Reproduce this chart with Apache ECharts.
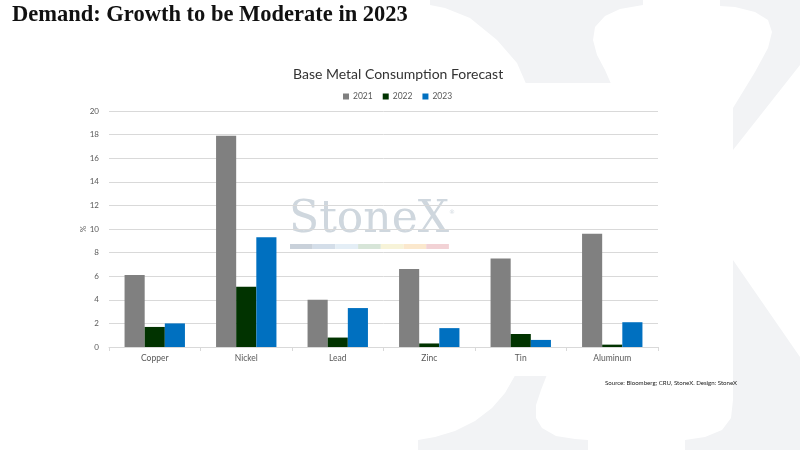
<!DOCTYPE html>
<html>
<head>
<meta charset="utf-8">
<script src="https://cdn.jsdelivr.net/npm/echarts@6/dist/echarts.min.js"></script>
<style>
html,body{margin:0;padding:0;background:#fff;}
#chart{width:800px;height:450px;}
</style>
</head>
<body>
<div id="chart"></div>
<script>
const categories = ['Copper', 'Nickel', 'Lead', 'Zinc', 'Tin', 'Aluminum'];
const seriesNames = ['2021', '2022', '2023'];
const values2021 = [6.1, 17.9, 4.0, 6.6, 7.5, 9.6];
const values2022 = [1.7, 5.1, 0.8, 0.3, 1.1, 0.2];
const values2023 = [2.0, 9.3, 3.3, 1.6, 0.6, 2.1];
const yTicks = [0, 2, 4, 6, 8, 10, 12, 14, 16, 18, 20];
const yAxisName = '%';
const colors = ['#808080', '#013300', '#0070c0'];

const grey = '#f2f3f5';
const stripColors = ['#c9d1da', '#d4dee9', '#e4eef6', '#d7e5d8', '#f7f3d8', '#fbe8cd', '#f2d2d5'];

const graphics = [
  { type: 'polygon', z: -10, silent: true, shape: { points: [[430,0],[643,0],[643,5],[620,9],[605,16],[595,27],[593,40],[597,55],[605,70],[612,86],[527,86],[517,63],[497,40],[470,18],[445,8],[430,5]] }, style: { fill: grey } },
  { type: 'polygon', z: -10, silent: true, shape: { points: [[720,0],[800,0],[800,65],[733,150],[733,108],[755,72],[768,48],[772,32],[768,20],[755,12],[735,7],[720,6]] }, style: { fill: grey } },
  { type: 'polygon', z: -10, silent: true, shape: { points: [[733,260],[800,357],[800,450],[685,450],[685,440],[705,437],[722,430],[731,418],[733,400]] }, style: { fill: grey } },
  { type: 'polygon', z: -10, silent: true, shape: { points: [[517,372],[548,372],[541,390],[536,405],[536,418],[542,428],[556,436],[575,439],[588,440],[588,450],[418,450],[418,440],[435,437],[455,431],[475,421],[492,408],[505,393]] }, style: { fill: grey } },
  { type: 'rect', z: -9, silent: true, shape: { x: 0, y: 83, width: 733, height: 293 }, style: { fill: '#ffffff' } },
  { type: 'text', z: 10, left: 12, top: 4, style: { text: 'Demand: Growth to be Moderate in 2023', font: 'bold 22.5px "Liberation Serif", serif', fill: '#111111' } },
  { type: 'text', z: 10, left: 605, top: 380, style: { text: 'Source: Bloomberg; CRU, StoneX. Design: StoneX', font: '6.1px Lato, "Open Sans", sans-serif', fill: '#222222' } },
  { type: 'text', z: 10, x: 83, y: 229, rotation: Math.PI / 2, style: { text: yAxisName, font: '8px Lato, "Open Sans", sans-serif', fill: '#595959', align: 'center', verticalAlign: 'middle' } },
  { type: 'text', z: 0, left: 289, top: 199, silent: true, style: { text: 'StoneX', font: '44px "DejaVu Serif", serif', fill: '#cfd7de' } },
  { type: 'text', z: 0, left: 449, top: 209, silent: true, style: { text: '®', font: '6px "DejaVu Serif", serif', fill: '#cfd7de' } }
];
stripColors.forEach(function (c, i) {
  graphics.push({ type: 'rect', z: 0, silent: true, shape: { x: 290 + i * 22.7, y: 244, width: 22.7, height: 5 }, style: { fill: c } });
});

const chart = echarts.init(document.getElementById('chart'));
chart.setOption({
  animation: false,
  backgroundColor: 'transparent',
  color: colors,
  title: {
    text: 'Base Metal Consumption Forecast',
    left: 288,
    top: 62,
    textStyle: { fontFamily: 'Lato, "Open Sans", sans-serif', fontSize: 14, fontWeight: 'normal', color: '#333333' }
  },
  legend: {
    data: seriesNames,
    left: 338,
    top: 87,
    itemWidth: 6,
    itemHeight: 6,
    itemGap: 10,
    icon: 'rect',
    textStyle: { fontFamily: 'Lato, "Open Sans", sans-serif', fontSize: 8.5, color: '#595959', padding: [0, 0, 0, -1] }
  },
  grid: { left: 109, right: 142, top: 111, bottom: 103 },
  xAxis: {
    type: 'category',
    data: categories,
    axisLine: { lineStyle: { color: '#d9d9d9', width: 1 } },
    axisTick: { show: true, length: 4, lineStyle: { color: '#d9d9d9' } },
    axisLabel: { fontFamily: 'Lato, "Open Sans", sans-serif', fontSize: 8.5, color: '#595959', margin: 7 }
  },
  yAxis: {
    type: 'value',
    min: yTicks[0],
    max: yTicks[yTicks.length - 1],
    interval: yTicks[1] - yTicks[0],
    axisLine: { show: false },
    axisTick: { show: false },
    axisLabel: { fontFamily: 'Lato, "Open Sans", sans-serif', fontSize: 8, color: '#595959', margin: 10 },
    splitLine: { lineStyle: { color: '#d9d9d9', width: 1 } }
  },
  series: [
    { name: seriesNames[0], type: 'bar', data: values2021, barGap: '0%', barCategoryGap: '34%', z: 5 },
    { name: seriesNames[1], type: 'bar', data: values2022, barGap: '0%', barCategoryGap: '34%', z: 5 },
    { name: seriesNames[2], type: 'bar', data: values2023, barGap: '0%', barCategoryGap: '34%', z: 5 }
  ],
  graphic: graphics
});
</script>
</body>
</html>
